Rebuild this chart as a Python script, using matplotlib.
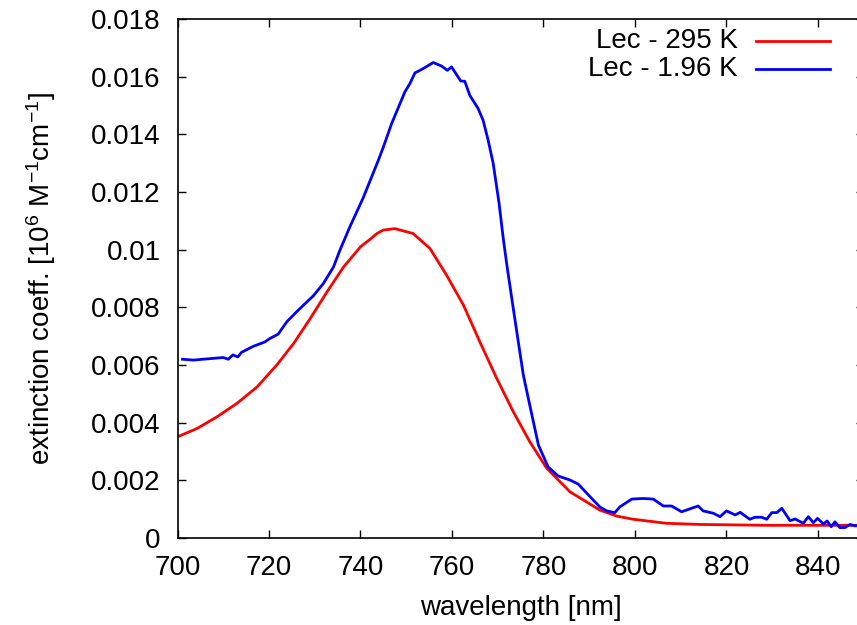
import numpy as np
import matplotlib
matplotlib.use('Agg')
import matplotlib.pyplot as plt
import matplotlib.ticker as ticker

plt.rcParams['font.family'] = ['Liberation Sans', 'DejaVu Sans']
plt.rcParams['mathtext.fontset'] = 'custom'
plt.rcParams['mathtext.rm'] = 'Liberation Sans'
plt.rcParams['mathtext.it'] = 'Liberation Sans'

# Lec - 295 K (smooth)
wl_295 = [700, 704.3, 708.6, 713, 717.4, 721.7, 725.4, 729, 732.7, 736.3, 740,
          742.1, 743.6, 745, 747.5, 751.5, 755.2, 758.8, 762.5, 766.1, 769.8,
          773.4, 777, 780.7, 785.8, 788.7, 792.3, 796, 799.6, 806.9, 814.2,
          828.8, 843.3, 850]
ext_295 = [0.00351, 0.00380, 0.00420, 0.00467, 0.00524, 0.00600, 0.00675,
           0.00761, 0.00854, 0.00940, 0.01010, 0.01036, 0.01056, 0.01068,
           0.01073, 0.01056, 0.01004, 0.00912, 0.00808, 0.00680, 0.00553,
           0.00438, 0.00334, 0.00242, 0.00160, 0.00132, 0.00097, 0.00076,
           0.00065, 0.00051, 0.00047, 0.00044, 0.00044, 0.00044]

# Lec - 1.96 K (measured, noisy)
wl_196 = [701.1, 703.5, 705.6, 707.8, 710.0, 711.1, 712.1, 713.2, 714.0, 716.6,
          719.1, 720.2, 722.0, 723.9, 726.0, 727.5, 729.7, 731.9, 734.1, 735.5,
          737.7, 740.6, 743.9, 745.0, 746.8, 749.7, 750.8, 751.9, 753.7, 755.9,
          757.7, 759.0, 759.9, 761.9, 762.8, 763.9, 765.7, 766.8, 767.9, 769.0,
          770.3, 771.2, 772.0, 773.4, 774.5, 775.6, 777.0, 778.9, 781.0, 783.2,
          785.8, 787.6, 790.2, 792.3, 793.8, 795.6, 796.7, 799.3, 801.8, 804.0,
          806.2, 808.0, 810.2, 813.8, 814.9, 817.1, 818.6, 820.0, 821.9, 823.0,
          825.1, 826.2, 827.7, 828.8, 829.9, 831.0, 832.1, 833.9, 835.0, 836.8,
          837.9, 839.0, 839.9, 841.2, 842.0, 842.9, 843.7, 844.8, 845.9, 847.0,
          848.1, 850.0]
ext_196 = [0.00620, 0.00617, 0.00620, 0.00623, 0.00626, 0.00620, 0.00635,
           0.00628, 0.00644, 0.00665, 0.00680, 0.00692, 0.00707, 0.00750,
           0.00784, 0.00807, 0.00840, 0.00883, 0.00940, 0.00998, 0.01080,
           0.01180, 0.01310, 0.01356, 0.01437, 0.01547, 0.01576, 0.01613,
           0.01628, 0.01649, 0.01637, 0.01622, 0.01634, 0.01585, 0.01584,
           0.01535, 0.01490, 0.01449, 0.01380, 0.01300, 0.01160, 0.01040,
           0.00946, 0.00796, 0.00680, 0.00565, 0.00461, 0.00322, 0.00247,
           0.00215, 0.00201, 0.00187, 0.00143, 0.00108, 0.00094, 0.00088,
           0.00108, 0.00135, 0.00137, 0.00135, 0.00111, 0.00111, 0.00091,
           0.00111, 0.00094, 0.00086, 0.00074, 0.00094, 0.00080, 0.00089,
           0.00065, 0.00072, 0.00072, 0.00065, 0.00088, 0.00088, 0.00103,
           0.00060, 0.00066, 0.00051, 0.00074, 0.00053, 0.00068, 0.00049,
           0.00059, 0.00039, 0.00056, 0.00036, 0.00036, 0.00047, 0.00042,
           0.00044]

x_ticks = [700, 720, 740, 760, 780, 800, 820, 840]
y_ticks = [0, 0.002, 0.004, 0.006, 0.008, 0.01, 0.012, 0.014, 0.016, 0.018]

W, H = 857, 625
fig = plt.figure(figsize=(W / 100, H / 100), dpi=100)
left, right, top, bottom = 177.5, 863.7, 19, 538
ax = fig.add_axes([left / W, 1 - bottom / H, (right - left) / W, (bottom - top) / H])

ax.plot(wl_295, ext_295, color='#ff0000', lw=2.0)
ax.plot(wl_196, ext_196, color='#0000ff', lw=2.0)

ax.set_xlim(700, 850)
ax.set_ylim(0, 0.018)
ax.xaxis.set_major_locator(ticker.FixedLocator(x_ticks))
ax.yaxis.set_major_locator(ticker.FixedLocator(y_ticks))
ax.yaxis.set_major_formatter(ticker.FuncFormatter(lambda v, p: '%g' % v))
ax.tick_params(direction='in', length=6, width=1, labelsize=20,
               top=True, right=True, color='black')
ax.tick_params(axis='y', pad=12)
ax.tick_params(axis='x', pad=12)
for s in ax.spines.values():
    s.set_linewidth(1.2)

ax.set_xlabel('wavelength [nm]', fontsize=20, labelpad=10)
ax.set_ylabel(r'extinction coeff. [10$^6$ M$^{-1}$cm$^{-1}$]', fontsize=20, labelpad=24)

# gnuplot-style key: text right-aligned, sample line after it
labels = ['Lec - 295 K', 'Lec - 1.96 K']
colors = ['#ff0000', '#0000ff']
rows = [0.9576, 0.9037]
for lab, c, yy in zip(labels, colors, rows):
    ax.text(0.8168, yy, lab, transform=ax.transAxes, ha='right', va='center', fontsize=20)
    ax.plot([0.843, 0.951], [yy, yy], transform=ax.transAxes, color=c, lw=2.0)

plt.savefig('out.png', dpi=100)
